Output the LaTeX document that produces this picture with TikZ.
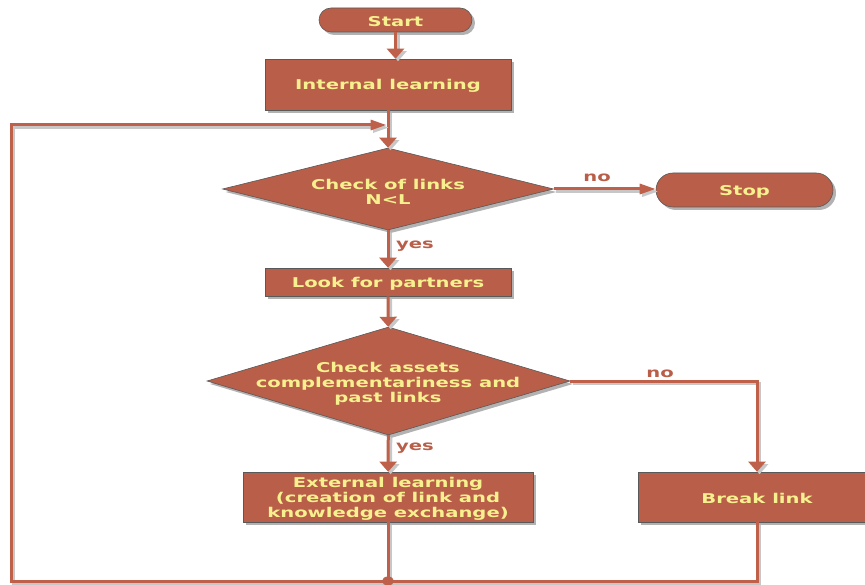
\documentclass[tikz,border=0pt]{standalone}
\usepackage{fontspec}
\setmainfont{DejaVu Sans}[FakeStretch=1.45]
\usetikzlibrary{shapes.geometric,shadows,arrows.meta}
\definecolor{boxfill}{RGB}{185,94,72}
\definecolor{boxtext}{RGB}{246,241,142}
\definecolor{wirec}{RGB}{190,96,74}
\begin{document}
\begin{tikzpicture}[x=1pt,y=-1pt,
  every node/.style={font=\fontsize{13.5}{15}\selectfont\bfseries},
  shapeshadow/.style={drop shadow={shadow xshift=3pt,shadow yshift=-3pt,fill=black!30,opacity=1}},
  block/.style={rectangle, fill=boxfill, draw=black!65, line width=0.6pt, shapeshadow, inner sep=0pt},
  terminal/.style={block, rounded corners=#1},
  decision/.style={diamond, fill=boxfill, draw=black!65, line width=0.6pt, shapeshadow, inner sep=0pt},
  caption/.style={text=boxtext, align=center, yshift=-1.5pt},
  answer/.style={text=boxfill, yshift=-1.5pt},
  wire/.style={draw=wirec, line width=3pt,
    preaction={draw=black!22, line width=3pt, transform canvas={xshift=2.5pt,yshift=-2.5pt}}},
  vtip/.style={-{Triangle[length=10pt,width=17pt]}},
  htip/.style={-{Triangle[length=16pt,width=10pt]}}
]
\useasboundingbox (0,0) rectangle (865,585);
\clip (0,0) rectangle (865,585);

% shapes
\node[terminal=12pt, minimum width=153pt, minimum height=24pt] (start) at (395.5,20) {};
\node[block, minimum width=246pt, minimum height=51pt] (il) at (388,84.5) {};
\node[decision, minimum width=331pt, minimum height=82pt] (d1) at (388,189) {};
\node[terminal=17pt, minimum width=177pt, minimum height=34pt] (stop) at (744.5,190) {};
\node[block, minimum width=246pt, minimum height=28pt] (lp) at (388,282) {};
\node[decision, minimum width=363pt, minimum height=108pt] (d2) at (388.5,381) {};
\node[block, minimum width=290pt, minimum height=50pt] (el) at (388,497) {};
\node[block, minimum width=238pt, minimum height=50pt] (bl) at (757,497) {};

% texts
\node[caption] (tstart) at (start) {Start};
\node[caption] (til) at (il) {Internal learning};
\node[caption] (td1) at (388,190) {Check of links\\N<L};
\node[caption] (tstop) at (stop) {Stop};
\node[caption] (tlp) at (lp) {Look for partners};
\node[caption] (td2) at (388,382) {Check assets\\complementariness and\\past links};
\node[caption] (tel) at (el) {External learning\\(creation of link and\\knowledge exchange)};
\node[caption] (tbl) at (bl) {Break link};

% loop corners
\coordinate (merge) at (388,125);
\coordinate (looptl) at (11,125);
\coordinate (loopbl) at (11,581);
\coordinate (join) at (388,581);
\coordinate (brk) at (757,581);

% connectors
\draw[wire,vtip] (start.south) -- (start.south |- il.north);
\draw[wire,vtip] (il) -- (d1);
\draw[wire,htip] (d1.east) -- (d1.east -| stop.west);
\draw[wire,vtip] (d1) -- (lp);
\draw[wire,vtip] (lp) -- (d2);
\draw[wire,vtip] (d2) -- (el);
\draw[wire,vtip] (d2.east) -| (bl.north);
\draw[wire] (el) -- (join);
\draw[wire] (bl.south) -- (brk) -- (join);
\draw[wire,htip,shorten >=1.5pt] (join) -- (loopbl) -- (looptl) -- (merge);
\fill[wirec] (join) ellipse (6pt and 4.5pt);

% branch labels
\node[answer] (no1) at (597,176) {no};
\node[answer] (yes1) at (415,245) {yes};
\node[answer] (no2) at (660,372) {no};
\node[answer] (yes2) at (415,447) {yes};
\end{tikzpicture}
\end{document}
